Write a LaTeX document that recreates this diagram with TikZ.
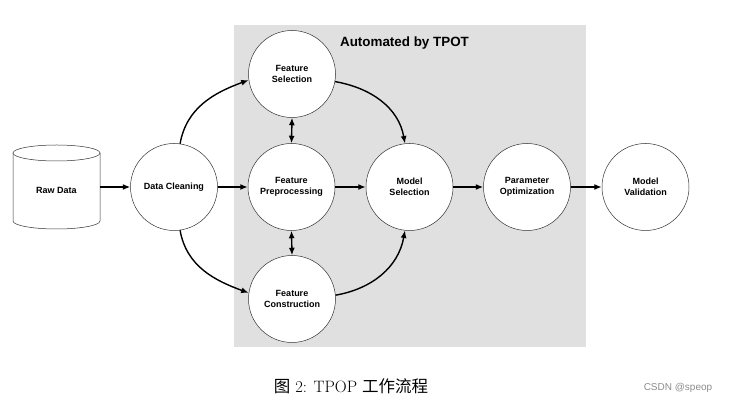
\documentclass[tikz,border=0pt]{standalone}
\usepackage{fontspec}
\setsansfont{Liberation Sans}
\newfontfamily\cjk{Noto Sans CJK SC}
\usetikzlibrary{arrows.meta}
\definecolor{boxgrey}{HTML}{E0E0E0}
\tikzset{
  stage/.style={circle, draw=black!80, line width=0.5pt, fill=white, minimum size=87pt, inner sep=0pt,
    align=center, font=\sffamily\bfseries\fontsize{9}{11}\selectfont},
  flow/.style={line width=1.4pt, -{Latex[length=7.5pt,width=6pt]}},
  biflow/.style={line width=1.4pt, {Latex[length=7.5pt,width=6pt]}-{Latex[length=7.5pt,width=6pt]}},
}
\begin{document}
\begin{tikzpicture}[x=1pt,y=1pt]
\useasboundingbox (0,0) rectangle (737,404);
% grey area
\fill[boxgrey] (234,57) rectangle (586,379);
\node[font=\sffamily\bfseries\fontsize{13.4}{16}\selectfont] (title) at (404.5,361) {Automated by TPOT};
% cylinder
\draw[line width=0.5pt, draw=black!80, fill=white] (13,251) -- (13,183) arc[start angle=180,end angle=360,x radius=43.5,y radius=8] -- (100,251);
\draw[line width=0.5pt, draw=black!80, fill=white] (56.5,251) ellipse[x radius=43.5,y radius=8];
\node[minimum width=87pt, minimum height=84pt, inner sep=0pt] (raw) at (56.5,217) {};
\node[font=\sffamily\bfseries\fontsize{9}{11}\selectfont] (rawtxt) at (56.5,214) {Raw Data};
% stages
\node[stage] (dc) at (174,217) {Data Cleaning};
\node[stage] (fs) at (292,330) {Feature\\Selection};
\node[stage] (fp) at (291.5,217) {Feature\\Preprocessing};
\node[stage] (fc) at (292,105) {Feature\\Construction};
\node[stage] (ms) at (409.5,217) {Model\\Selection};
\node[stage] (po) at (527,217) {Parameter\\Optimization};
\node[stage] (mv) at (645.5,217) {Model\\Validation};
% connectors
\draw[flow] (raw.east) -- (dc.west);
\draw[flow] (dc.east) -- (fp.west);
\draw[flow] (fp.east) -- (ms.west);
\draw[flow] (ms.east) -- (po.west);
\draw[flow] (po.east) -- (mv.west);
\draw[biflow] (fs.south) -- (fp.north);
\draw[biflow] (fp.south) -- (fc.north);
\draw[flow] (dc.82) to[out=80,in=200] (fs.188);
\draw[flow] (dc.-82) to[out=-80,in=160] (fc.172);
\draw[flow] (fs.-10) to[out=-10,in=100] (ms.96);
\draw[flow] (fc.5) to[out=10,in=-100] (ms.-96);
% caption
\node[font=\fontsize{16.5}{19}\selectfont] (cap) at (351,18) {{\cjk 图} 2: TPOP {\cjk 工作流程}};
\node[font=\sffamily\fontsize{10}{12}\selectfont, text=black!45] (csdn) at (678,16) {CSDN @speop};
\end{tikzpicture}
\end{document}
